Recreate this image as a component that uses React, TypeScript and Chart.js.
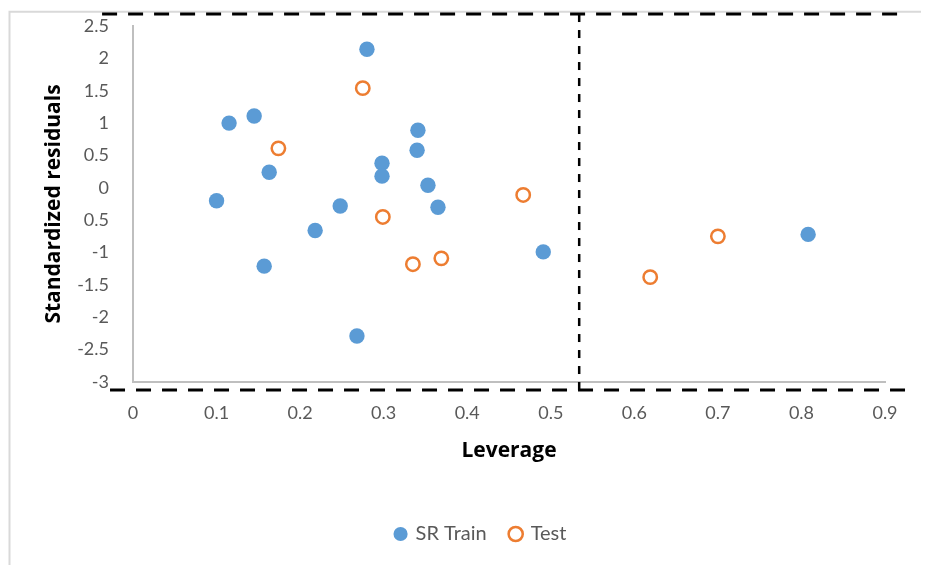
import React, { useEffect, useRef } from "react";
import { Chart, registerables } from "chart.js";

Chart.register(...registerables);

// SR Train (leverage, standardized residual)
const trainLeverage = [0.100, 0.115, 0.145, 0.157, 0.163, 0.218, 0.248, 0.268, 0.280, 0.298, 0.298, 0.340, 0.341, 0.353, 0.365, 0.491, 0.808];
const trainResidual = [-0.20, 1.00, 1.11, -1.21, 0.24, -0.66, -0.28, -2.29, 2.14, 0.38, 0.18, 0.58, 0.89, 0.04, -0.30, -0.99, -0.72];

// Test
const testLeverage = [0.174, 0.275, 0.299, 0.335, 0.369, 0.467, 0.619, 0.700];
const testResidual = [0.61, 1.54, -0.45, -1.18, -1.09, -0.11, -1.38, -0.75];

// Tick labels (as shown in the picture)
const xTickLabels = ["0", "0.1", "0.2", "0.3", "0.4", "0.5", "0.6", "0.7", "0.8", "0.9"];
const yTickLabels = ["-3", "-2.5", "-2", "-1.5", "-1", "0.5", "0", "0.5", "1", "1.5", "2", "2.5"];

// Applicability-domain dashed boundaries (data units)
const leverageWarning = [0.534];
const residualLimits = [2.685, -3.124];
const topLineExtent = [-0.037, 0.9155];
const bottomLineExtent = [-0.0275, 0.924];

const boundaryPlugin = {
  id: "boundaries",
  beforeDraw(chart: any) {
    const ctx = chart.ctx;
    ctx.save();
    ctx.strokeStyle = "#D9D9D9";
    ctx.lineWidth = 2;
    ctx.beginPath();
    ctx.moveTo(1.5, chart.height + 10);
    ctx.lineTo(1.5, 3.75);
    ctx.lineTo(chart.width + 10, 3.75);
    ctx.stroke();
    ctx.restore();
  },
  afterDraw(chart: any) {
    const { ctx, scales } = chart;
    const xs = scales.x;
    const ys = scales.y;
    ctx.save();
    ctx.strokeStyle = "#000000";
    ctx.lineWidth = 3;
    ctx.setLineDash([15, 11]);
    // top line
    let y = ys.getPixelForValue(residualLimits[0]);
    ctx.beginPath();
    ctx.moveTo(xs.getPixelForValue(topLineExtent[0]), y);
    ctx.lineTo(xs.getPixelForValue(topLineExtent[1]), y);
    ctx.stroke();
    // bottom line
    y = ys.getPixelForValue(residualLimits[1]);
    ctx.beginPath();
    ctx.moveTo(xs.getPixelForValue(bottomLineExtent[0]), y);
    ctx.lineTo(xs.getPixelForValue(bottomLineExtent[1]), y);
    ctx.stroke();
    // vertical
    ctx.lineWidth = 2.5;
    ctx.setLineDash([8, 8]);
    const x = xs.getPixelForValue(leverageWarning[0]);
    ctx.beginPath();
    ctx.moveTo(x, ys.getPixelForValue(residualLimits[0]));
    ctx.lineTo(x, ys.getPixelForValue(residualLimits[1]));
    ctx.stroke();
    ctx.restore();
  },
};

export default function App() {
  const ref = useRef<HTMLCanvasElement | null>(null);

  useEffect(() => {
    if (!ref.current) return;
    const chart = new Chart(ref.current, {
      type: "scatter",
      data: {
        datasets: [
          {
            label: "SR Train",
            data: trainLeverage.map((x, i) => ({ x, y: trainResidual[i] })),
            backgroundColor: "#5B9BD5",
            borderColor: "#5B9BD5",
            borderWidth: 0,
            pointRadius: 7.7,
            pointHoverRadius: 7.7,
          },
          {
            label: "Test",
            data: testLeverage.map((x, i) => ({ x, y: testResidual[i] })),
            backgroundColor: "#FFFFFF",
            borderColor: "#ED7D31",
            borderWidth: 2.5,
            pointRadius: 6.7,
            pointHoverRadius: 6.7,
          },
        ],
      },
      options: {
        animation: false,
        responsive: true,
        maintainAspectRatio: false,
        layout: { padding: { left: 69, right: 44, top: 18, bottom: 11 } },
        plugins: {
          tooltip: { enabled: false },
          legend: {
            position: "bottom",
            labels: {
              usePointStyle: true,
              pointStyle: "circle",
              boxWidth: 10,
              boxHeight: 10,
              padding: 24,
              color: "#595959",
              font: { family: "Lato", size: 20 },
            },
          },
        },
        scales: {
          x: {
            type: "linear",
            min: 0,
            max: 0.9,
            afterFit: (s: any) => { s.height = 118; },
            ticks: {
              stepSize: 0.1,
              padding: 0,
              color: "#595959",
              font: { family: "Lato", size: 18 },
              callback: (_v: any, i: number) => xTickLabels[i],
            },
            grid: { display: false, drawTicks: true, tickLength: 20 },
            border: { display: true, color: "#BFBFBF", width: 2 },
            title: {
              display: true,
              text: "Leverage",
              color: "#000000",
              font: { family: "Open Sans", size: 21, weight: "bold" },
              padding: { top: 4, bottom: 36 },
            },
          },
          y: {
            type: "linear",
            min: -3,
            max: 2.5,
            afterFit: (s: any) => { s.width = 56; },
            ticks: {
              stepSize: 0.5,
              padding: 0,
              color: "#595959",
              font: { family: "Lato", size: 18 },
              callback: (_v: any, i: number) => yTickLabels[i],
            },
            grid: { display: false, drawTicks: true, tickLength: 24 },
            border: { display: true, color: "#BFBFBF", width: 2 },
            title: {
              display: true,
              text: "Standardized residuals",
              color: "#000000",
              font: { family: "Open Sans", size: 21, weight: "bold" },
              padding: { top: -36, bottom: 4 },
            },
          },
        },
      },
      plugins: [boundaryPlugin],
    });
    return () => chart.destroy();
  }, []);

  return (
    <div style={{ position: "relative", width: 921, height: 557 }}>
      <canvas ref={ref} />
    </div>
  );
}
